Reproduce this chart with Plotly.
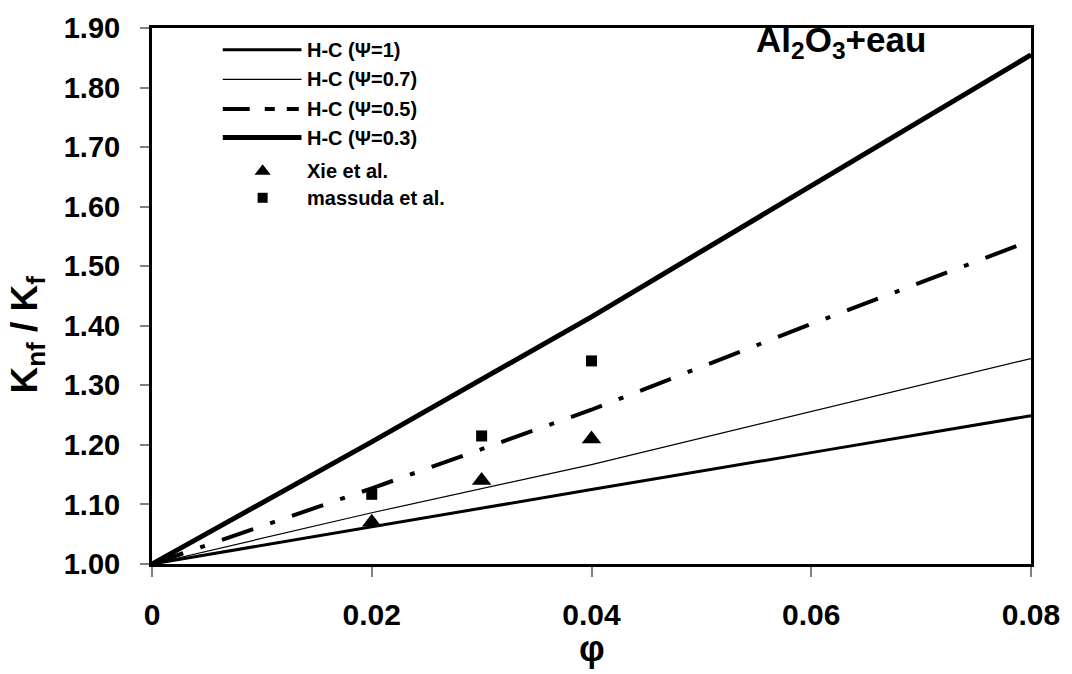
import plotly.graph_objects as go

# Volume fraction of Al2O3 particles
phi = [0.0, 0.02, 0.04, 0.06, 0.08]

# Hamilton-Crosser predictions of Knf/Kf for several sphericities
hc_psi_1 = [1.0, 1.063, 1.125, 1.187, 1.249]
hc_psi_07 = [1.0, 1.086, 1.167, 1.256, 1.345]
hc_psi_05 = [1.0, 1.127, 1.259, 1.403, 1.543]
hc_psi_03 = [1.0, 1.205, 1.415, 1.635, 1.855]

# Experimental points
phi_exp = [0.02, 0.03, 0.04]
xie = [1.07, 1.14, 1.21]
massuda = [1.117, 1.215, 1.341]

y_ticks = [1.0, 1.1, 1.2, 1.3, 1.4, 1.5, 1.6, 1.7, 1.8, 1.9]
x_ticks = [0, 0.02, 0.04, 0.06, 0.08]
x_tick_text = ["0", "0.02", "0.04", "0.06", "0.08"]

FONT = "Liberation Sans, Arial, sans-serif"
BLACK = "#000000"
DASHDOT = "33px,18px,5px,18px"
KEY_DASH = "27px,15px,10px,12px,12px,20px"

series = [
    ("H-C (Ψ=1)", hc_psi_1, 3, "solid"),
    ("H-C (Ψ=0.7)", hc_psi_07, 1.2, "solid"),
    ("H-C (Ψ=0.5)", hc_psi_05, 4, DASHDOT),
    ("H-C (Ψ=0.3)", hc_psi_03, 5, "solid"),
]

fig = go.Figure()

for name, vals, w, dash in series:
    fig.add_trace(go.Scatter(
        x=phi, y=vals, mode="lines", name=name,
        line=dict(color=BLACK, width=w, dash=dash),
        showlegend=False, hoverinfo="skip",
    ))

fig.add_trace(go.Scatter(
    x=phi_exp, y=xie, mode="markers", name="Xie et al.",
    marker=dict(symbol="triangle-up", size=17, color=BLACK),
    showlegend=False,
))
fig.add_trace(go.Scatter(
    x=phi_exp, y=massuda, mode="markers", name="massuda et al.",
    marker=dict(symbol="square", size=11, color=BLACK),
    showlegend=False,
))

# Hand-built legend on a pixel-scaled overlay axis pair
L = 152; R = 1034; T = 21; B = 564
key_x0, key_x1, key_mid, text_x = 223, 302, 263, 306
rows_y = [43, 73, 103, 132, 166, 193]
for (name, _, w, dash), ry in zip(series, rows_y[:4]):
    fig.add_trace(go.Scatter(
        x=[key_x0, key_x1], y=[ry, ry], mode="lines", xaxis="x2", yaxis="y2",
        line=dict(color=BLACK, width=w, dash="solid" if dash == "solid" else KEY_DASH),
        showlegend=False, hoverinfo="skip",
    ))
fig.add_trace(go.Scatter(
    x=[key_mid], y=[rows_y[4]], mode="markers", xaxis="x2", yaxis="y2",
    marker=dict(symbol="triangle-up", size=14, color=BLACK),
    showlegend=False, hoverinfo="skip",
))
fig.add_trace(go.Scatter(
    x=[key_mid], y=[rows_y[5]], mode="markers", xaxis="x2", yaxis="y2",
    marker=dict(symbol="square", size=10, color=BLACK),
    showlegend=False, hoverinfo="skip",
))

labels = [s[0] for s in series] + ["Xie et al.", "massuda et al."]
annotations = []
for text, ry in zip(labels, rows_y):
    annotations.append(dict(
        x=text_x, y=ry, xref="x2", yref="y2", text=text, showarrow=False,
        xanchor="left", yanchor="middle",
        font=dict(family=FONT, size=20, color=BLACK, weight="bold"),
    ))

# Nanofluid label
annotations.append(dict(
    x=843, y=35, xref="x2", yref="y2", text="Al<sub>2</sub>O<sub>3</sub>+eau",
    showarrow=False, xanchor="center", yanchor="middle",
    font=dict(family=FONT, size=35, color=BLACK, weight="bold"),
))

# Axis titles (paper coordinates, outside the plotting area)
annotations.append(dict(
    x=(27 - L) / (R - L), y=(B - 331) / (B - T), xref="paper", yref="paper",
    text="K<sub>nf</sub> / K<sub>f</sub>",
    showarrow=False, textangle=-90, xanchor="center", yanchor="middle",
    font=dict(family=FONT, size=37, color=BLACK, weight="bold"),
))
annotations.append(dict(
    x=(593 - L) / (R - L), y=(B - 650) / (B - T), xref="paper", yref="paper",
    text="φ",
    showarrow=False, xanchor="center", yanchor="middle",
    font=dict(family=FONT, size=36, color=BLACK, weight="bold"),
))

fig.update_layout(
    width=1072, height=674,
    margin=dict(l=L, r=1072 - R, t=T, b=674 - B, pad=0),
    paper_bgcolor="white", plot_bgcolor="white",
    font=dict(family=FONT, color=BLACK),
    xaxis=dict(
        range=[0, 0.08], tickvals=x_ticks, ticktext=x_tick_text,
        showgrid=False, zeroline=False,
        showline=True, linecolor=BLACK, linewidth=3, mirror=True,
        ticks="outside", ticklen=10, tickwidth=1.5, tickcolor="#808080",
        ticklabelstandoff=12,
        tickfont=dict(family=FONT, size=30, color=BLACK, weight="bold"),
    ),
    yaxis=dict(
        range=[1.0, 1.9], tickvals=y_ticks, tickformat=".2f",
        showgrid=False, zeroline=False,
        showline=True, linecolor=BLACK, linewidth=3, mirror=True,
        ticks="outside", ticklen=9, tickwidth=1.5, tickcolor="#808080",
        ticklabelstandoff=14,
        tickfont=dict(family=FONT, size=29, color=BLACK, weight="bold"),
    ),
    xaxis2=dict(range=[L, R], overlaying="x", visible=False, fixedrange=True),
    yaxis2=dict(range=[B, T], overlaying="y", visible=False, fixedrange=True),
    annotations=annotations,
    showlegend=False,
)

fig.write_html("out.html")
